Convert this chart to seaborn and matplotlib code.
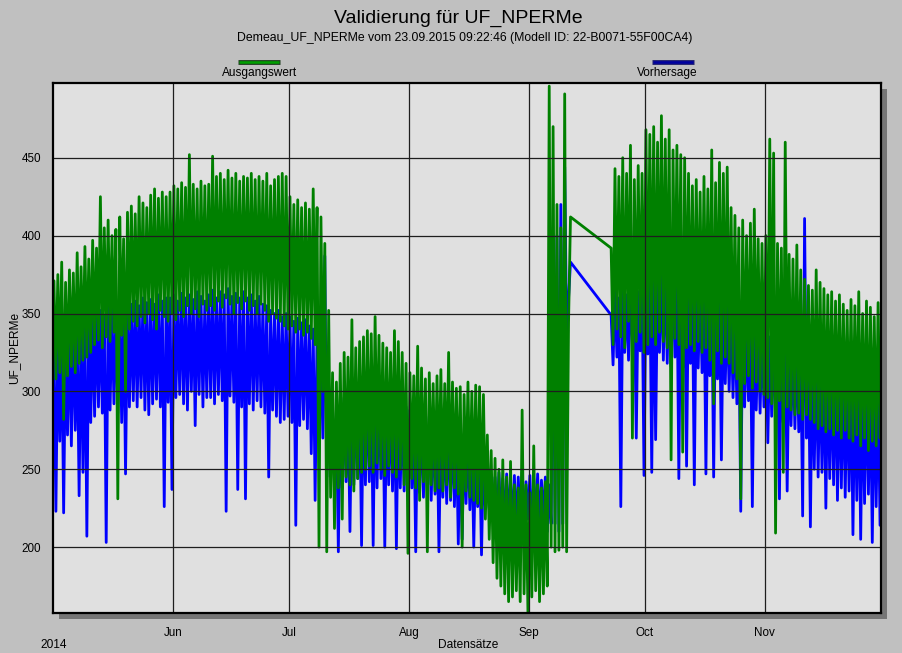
import numpy as np
import pandas as pd
import seaborn as sns
import matplotlib
matplotlib.use("Agg")
import matplotlib.pyplot as plt
import matplotlib.dates as mdates
from matplotlib.lines import Line2D
from matplotlib.patches import Rectangle
from matplotlib import font_manager

# ---------------- data (two readings per day, May 1 .. Nov 30 2014) ----------------
start_date = "2014-05-01"
N = None
ausgang_1 = [
    371, 375, 383, 370, 378, 376, 389, 380, 393, 385,
    397, 392, 425, 405, 410, 400, 404, 412, 398, 415,
    419, 414, 425, 421, 418, 426, 430, 424, 428, 425,
    428, 432, 430, 434, 431, 452, 433, 430, 435, 432,
    433, 451, 438, 440, 436, 442, 437, 440, 435, 438,
    437, 440, 436, 438, 435, 440, 432, 436, 438, 440,
    438, 425, 420, 423, 418, 421, 417, 430, 418, 412,
    395, 352, 312, 306, 318, 325, 322, 346, 328, 332,
    335, 339, 337, 348, 336, 331, 328, 325, 339, 332,
    325, 318, 312, 310, 329, 315, 308, 312, 305, 310,
    314, 305, 325, 306, 302, 303, 298, 306, 300, 304,
    303, 298, 272, 262, 257, 250, 256, 245, 255, 240,
    238, 288, 240, 235, 265, 240, 238, 242, 496, 470,
    420, 405, 491, 345, N, N, N, N, N, N,
    N, N, N, N, 392, 443, 438, 450, 440, 458,
    436, 445, 440, 468, 465, 470, 460, 477, 462, 468,
    455, 458, 452, 450, 440, 432, 436, 428, 438, 430,
    455, 434, 447, 440, 444, 418, 413, 405, 410, 400,
    408, 417, 398, 395, 400, 462, 453, 395, 392, 460,
    388, 385, 394, 378, 372, 368, 365, 378, 370, 366,
    362, 364, 358, 362, 356, 352, 359, 355, 364, 350,
    358, 354, 348, 357,
]
ausgang_2 = [
    308, 312, 282, 310, 316, 312, 318, 320, 322, 325,
    330, 333, 328, 335, 332, 338, 231, 336, 300, 340,
    345, 342, 348, 344, 350, 346, 340, 352, 348, 345,
    350, 346, 352, 348, 355, 350, 353, 348, 356, 352,
    355, 352, 358, 354, 360, 356, 350, 357, 353, 358,
    352, 355, 350, 356, 352, 345, 350, 347, 345, 342,
    340, 342, 338, 340, 336, 338, 334, 330, 200, 300,
    197, 232, 212, 238, 218, 245, 240, 236, 244, 248,
    250, 252, 248, 254, 250, 246, 252, 248, 245, 250,
    240, 196, 244, 238, 230, 242, 197, 240, 236, 238,
    236, 240, 232, 238, 234, 200, 236, 232, 230, 228,
    225, 218, 205, 190, 180, 175, 170, 165, 168, 172,
    165, 170, 158, 168, 172, 165, 170, 175, 200, 197,
    198, 200, 197, 412, N, N, N, N, N, N,
    N, N, N, N, 330, 340, 335, 328, 345, 270,
    332, 338, 325, 330, 335, 330, 338, 332, 328, 256,
    334, 330, 261, 328, 330, 326, 332, 325, 328, 320,
    292, 326, 318, 322, 318, 312, 308, 231, 305, 310,
    302, 306, 300, 298, 296, 292, 209, 294, 248, 290,
    288, 285, 286, 282, 285, 282, 280, 276, 278, 274,
    276, 272, 275, 270, 275, 270, 268, 272, 265, 270,
    262, 268, 265, 270,
]
vorhersage_1 = [
    330, 335, 338, 333, 340, 342, 338, 345, 343, 348,
    348, 350, 352, 349, 355, 353, 350, 356, 352, 354,
    356, 358, 355, 360, 357, 359, 356, 362, 358, 360,
    360, 362, 358, 363, 360, 362, 359, 364, 361, 358,
    362, 365, 360, 364, 362, 366, 361, 363, 360, 364,
    360, 362, 358, 361, 356, 355, 352, 350, 352, 348,
    350, 348, 345, 347, 344, 346, 342, 340, 338, 330,
    387, 305, 285, 288, 292, 296, 294, 300, 298, 302,
    304, 306, 305, 308, 304, 300, 298, 296, 300, 297,
    292, 290, 288, 286, 290, 285, 282, 284, 280, 282,
    280, 278, 282, 276, 275, 274, 272, 270, 268, 266,
    262, 258, 250, 246, 245, 248, 244, 247, 243, 246,
    245, 248, 242, 246, 244, 247, 243, 245, 240, 380,
    400, 420, 444, 360, N, N, N, N, N, N,
    N, N, N, N, 349, 365, 360, 366, 362, 367,
    360, 364, 368, 370, 375, 380, 372, 378, 382, 376,
    374, 378, 372, 370, 370, 366, 368, 365, 368, 364,
    366, 362, 360, 358, 355, 350, 348, 345, 346, 342,
    344, 340, 338, 340, 338, 335, 336, 332, 334, 330,
    332, 328, 330, 326, 411, 325, 322, 324, 320, 318,
    320, 316, 318, 315, 312, 310, 312, 308, 310, 306,
    308, 305, 306, 304,
]
vorhersage_2 = [
    223, 268, 222, 272, 265, 275, 233, 248, 207, 280,
    284, 290, 286, 203, 288, 292, 286, 280, 247, 290,
    294, 290, 296, 288, 285, 292, 295, 290, 226, 293,
    237, 296, 298, 292, 288, 300, 278, 298, 290, 296,
    296, 292, 298, 294, 223, 297, 293, 237, 290, 231,
    292, 288, 294, 290, 286, 245, 288, 284, 280, 282,
    284, 280, 214, 278, 282, 276, 260, 230, 275, 270,
    245, 248, 240, 197, 238, 242, 210, 240, 244, 201,
    240, 242, 201, 238, 244, 200, 240, 236, 199, 238,
    236, 233, 238, 197, 235, 232, 236, 230, 234, 197,
    232, 228, 230, 226, 202, 205, 228, 224, 200, 226,
    195, 226, 225, 220, 215, 218, 212, 216, 214, 210,
    215, 212, 218, 210, 214, 212, 216, 210, 215, 215,
    210, 215, 337, 383, N, N, N, N, N, N,
    N, N, N, N, 317, 322, 226, 325, 320, 330,
    270, 326, 246, 324, 248, 269, 325, 320, 318, 316,
    322, 244, 315, 252, 318, 240, 315, 312, 247, 310,
    245, 308, 256, 305, 300, 296, 292, 223, 290, 294,
    226, 288, 286, 290, 267, 284, 282, 231, 280, 236,
    278, 276, 274, 220, 270, 213, 250, 245, 248, 225,
    244, 240, 230, 238, 232, 236, 208, 230, 205, 228,
    234, 203, 226, 214,
]
month_ticks = ["2014-06-01", "2014-07-01", "2014-08-01", "2014-09-01", "2014-10-01", "2014-11-01"]
month_labels = ["Jun", "Jul", "Aug", "Sep", "Oct", "Nov"]
y_ticks = [200, 250, 300, 350, 400, 450]
series_names = ["Vorhersage", "Ausgangswert"]
series_colors = {"Ausgangswert": "#008000", "Vorhersage": "#0000ff"}

# ---------------- build long table ----------------
for arr in (ausgang_1, ausgang_2, vorhersage_1, vorhersage_2):
    assert len(arr) == 214, len(arr)

base = pd.Timestamp(start_date)
rows = []
for name, a1, a2 in (("Vorhersage", vorhersage_1, vorhersage_2),
                     ("Ausgangswert", ausgang_1, ausgang_2)):
    for d in range(214):
        if a1[d] is not None:
            rows.append((name, base + pd.Timedelta(days=d, hours=6), a1[d]))
        if a2[d] is not None:
            rows.append((name, base + pd.Timedelta(days=d, hours=18), a2[d]))
df = pd.DataFrame(rows, columns=["series", "time", "value"])

# ---------------- style ----------------
names = {f.name for f in font_manager.fontManager.ttflist}
fam = "Liberation Sans Narrow" if "Liberation Sans Narrow" in names else "Liberation Sans"
sns.set_style("white")
plt.rcParams["font.family"] = [fam, "DejaVu Sans"]
plt.rcParams["text.color"] = "black"
plt.rcParams["xtick.color"] = "black"
plt.rcParams["ytick.color"] = "black"

W, H = 902, 653
fig = plt.figure(figsize=(W / 100, H / 100), dpi=100)
fig.patch.set_facecolor("#c0c0c0")

L, R, T, B = 53, 881, 83, 613
ax = fig.add_axes([L / W, 1 - B / H, (R - L) / W, (B - T) / H])
ax.set_facecolor("#e0e0e0")

# drop shadow
fig.patches.append(Rectangle(((L + 6) / W, 1 - (B + 6) / H), (R - L) / W, (B - T) / H,
                             transform=fig.transFigure, facecolor="#767676",
                             edgecolor="none", zorder=-1))

sns.lineplot(data=df, x="time", y="value", hue="series", hue_order=series_names,
             palette=series_colors, estimator=None, sort=False, linewidth=2.0,
             legend=False, ax=ax)

ax.set_xlim(pd.Timestamp("2014-05-01"), pd.Timestamp("2014-12-01"))
ax.set_ylim(157.7, 498)

ax.set_xticks([pd.Timestamp(m) for m in month_ticks])
ax.set_xticklabels(month_labels)
ax.xaxis.set_minor_locator(mdates.DayLocator(bymonthday=[8, 15, 22]))
ax.set_yticks(y_ticks)
ax.set_yticklabels([str(v) for v in y_ticks])
ax.yaxis.set_minor_locator(matplotlib.ticker.MultipleLocator(10))

ax.grid(True, which="major", color="#1e1e1e", linewidth=0.9)
ax.set_axisbelow(False)
for ln in ax.get_xgridlines() + ax.get_ygridlines():
    ln.set_zorder(0.5)
for ln in ax.lines:
    ln.set_zorder(2)

ax.tick_params(axis="both", which="major", direction="out", length=6, width=1,
               color="black", labelsize=8.4, pad=2.5, labelcolor="black")
ax.tick_params(axis="both", which="minor", direction="in", length=4, width=1, color="black")
ax.tick_params(axis="x", which="major", pad=4)
for s in ax.spines.values():
    s.set_color("black")
    s.set_linewidth(1.6)
    s.set_zorder(5)

ax.set_xlabel("")
ax.set_ylabel("")

# titles
fig.text(458 / W, 1 - 18 / H, "Validierung für UF_NPERMe", ha="center", va="center", fontsize=14)
fig.text(465 / W, 1 - 38 / H,
         "Demeau_UF_NPERMe vom 23.09.2015 09:22:46 (Modell ID: 22-B0071-55F00CA4)",
         ha="center", va="center", fontsize=8.8)

# legend
for x0, x1, inner, outer, label, cx in ((238, 280, "#00a000", "#204020", "Ausgangswert", 260),
                                        (652, 694, "#0000a0", "#202070", "Vorhersage", 667)):
    fig.add_artist(Line2D([x0 / W, x1 / W], [1 - 62 / H, 1 - 62 / H], color=outer,
                          linewidth=3.5, solid_capstyle="butt", transform=fig.transFigure))
    fig.add_artist(Line2D([(x0 + 1) / W, (x1 - 1) / W], [1 - 62 / H, 1 - 62 / H], color=inner,
                          linewidth=1.8, solid_capstyle="butt", transform=fig.transFigure))
    fig.text(cx / W, 1 - 73 / H, label, ha="center", va="center", fontsize=8.6)

fig.text(14 / W, 1 - 348 / H, "UF_NPERMe", rotation=90, ha="center", va="center", fontsize=8.6)
fig.text(468 / W, 1 - 645 / H, "Datensätze", ha="center", va="center", fontsize=8.6)
fig.text(40 / W, 1 - 645 / H, "2014", ha="left", va="center", fontsize=8.6)

fig.savefig("out.png", dpi=100, facecolor=fig.get_facecolor())
